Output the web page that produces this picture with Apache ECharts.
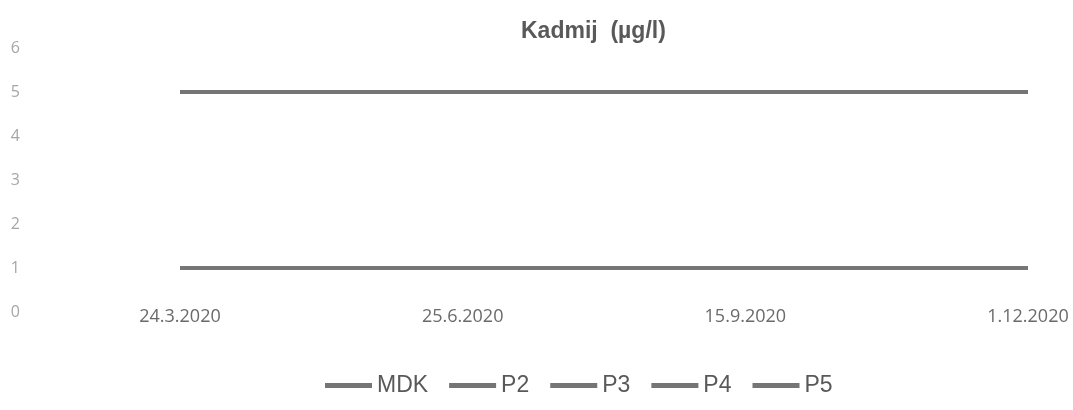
<!DOCTYPE html>
<html>
<head>
<meta charset="utf-8">
<script src="https://cdn.jsdelivr.net/npm/echarts@6/dist/echarts.min.js"></script>
<style>
html,body{margin:0;padding:0;background:#fff;}
#c{width:1073px;height:410px;}
</style>
</head>
<body>
<div id="c"></div>
<script>
const categories = ['24.3.2020', '25.6.2020', '15.9.2020', '1.12.2020'];
const seriesNames = ['MDK', 'P2', 'P3', 'P4', 'P5'];
const MDK = [5, 5, 5, 5];
const P2 = [1, 1, 1, 1];
const P3 = [1, 1, 1, 1];
const P4 = [1, 1, 1, 1];
const P5 = [1, 1, 1, 1];
const yTicks = [0, 1, 2, 3, 4, 5, 6];

const values = [MDK, P2, P3, P4, P5];
const widths = [4, 3.5, 3, 3, 3];
const chart = echarts.init(document.getElementById('c'), null, {renderer: 'canvas'});
chart.setOption({
  animation: false,
  backgroundColor: '#fff',
  title: {
    text: 'Kadmij  (µg/l)',
    left: 516, top: 15,
    textStyle: {fontFamily: 'Liberation Sans, Arial, sans-serif', fontSize: 23, fontWeight: 'bold', color: '#595959'}
  },
  legend: {
    left: 320, top: 369,
    icon: 'rect', itemWidth: 47, itemHeight: 5, itemGap: 21,
    textStyle: {fontFamily: 'Liberation Sans, Arial, sans-serif', fontSize: 23, color: '#595959'},
    data: seriesNames
  },
  grid: {left: 180, right: 45, top: 48, bottom: 98, containLabel: false},
  xAxis: {
    type: 'category', data: categories, boundaryGap: false,
    axisLine: {show: false}, axisTick: {show: false},
    axisLabel: {margin: -4, fontFamily: 'Open Sans, sans-serif', fontSize: 18, color: '#6a6a6a'}
  },
  yAxis: {
    type: 'value', min: yTicks[0], max: yTicks[yTicks.length - 1], interval: 1,
    axisLine: {show: false}, axisTick: {show: false}, splitLine: {show: false},
    axisLabel: {margin: 160, fontFamily: 'Open Sans, sans-serif', fontSize: 16, color: '#a6a6a6'}
  },
  series: seriesNames.map((n, i) => ({
    name: n, type: 'line', data: values[i], symbol: 'none',
    lineStyle: {color: '#757575', width: widths[i]},
    itemStyle: {color: '#757575'}
  }))
});
</script>
</body>
</html>
